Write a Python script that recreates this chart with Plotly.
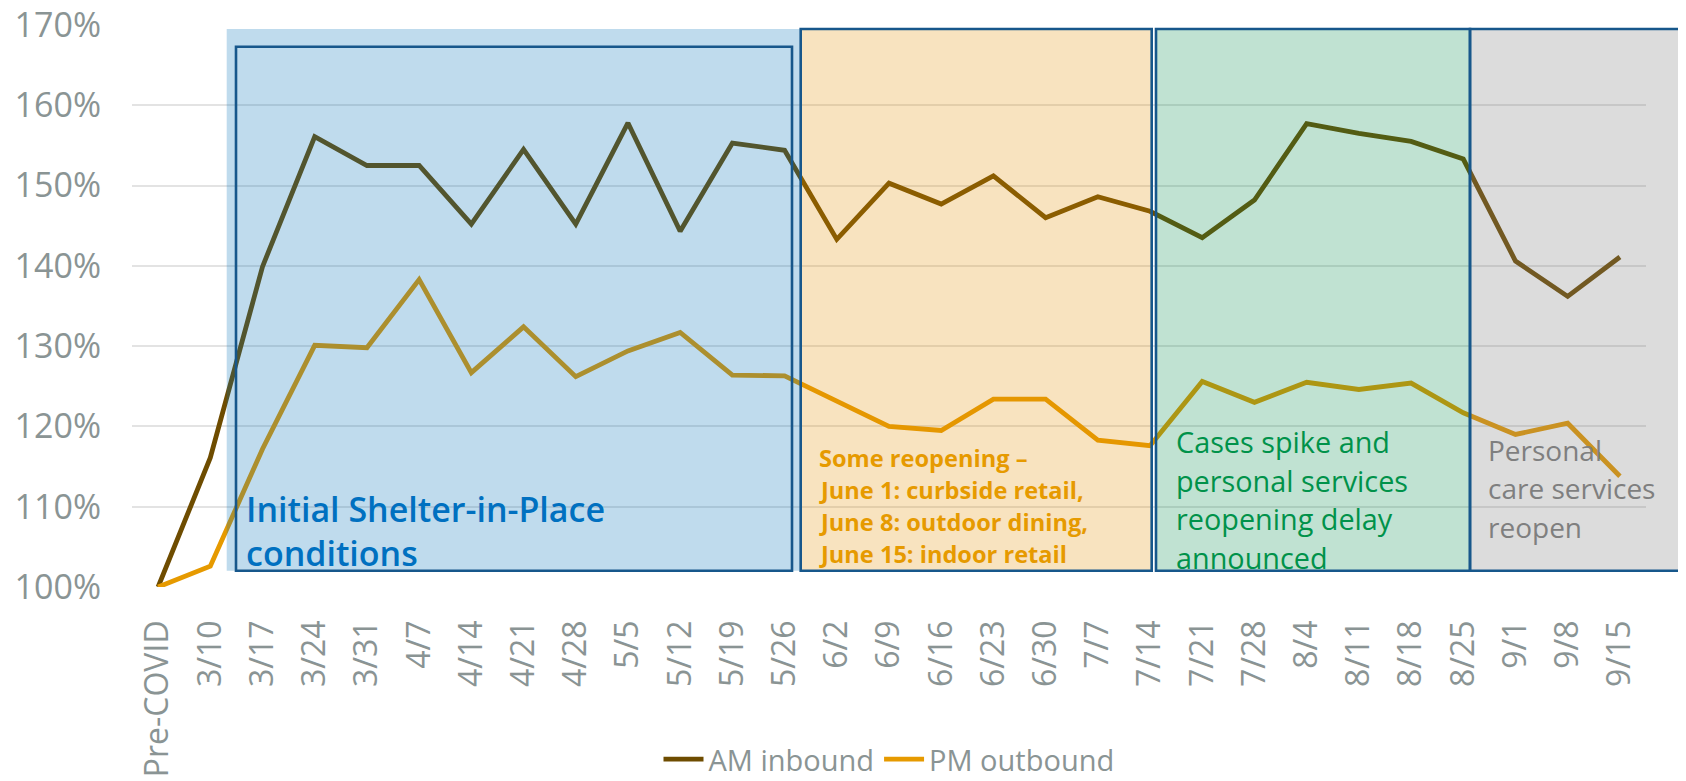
import plotly.graph_objects as go

categories = ["Pre-COVID", "3/10", "3/17", "3/24", "3/31", "4/7", "4/14", "4/21", "4/28",
              "5/5", "5/12", "5/19", "5/26", "6/2", "6/9", "6/16", "6/23", "6/30", "7/7",
              "7/14", "7/21", "7/28", "8/4", "8/11", "8/18", "8/25", "9/1", "9/8", "9/15"]
am_inbound = [100.0, 116.1, 139.9, 156.1, 152.5, 152.5, 145.2, 154.5, 145.2,
              157.8, 144.3, 155.3, 154.4, 143.3, 150.3, 147.7, 151.2, 146.0, 148.6,
              146.8, 143.5, 148.2, 157.7, 156.5, 155.5, 153.3, 140.6, 136.2, 141.1]
pm_outbound = [100.0, 102.6, 117.2, 130.1, 129.8, 138.3, 126.7, 132.4, 126.2,
               129.4, 131.7, 126.4, 126.3, 123.1, 120.0, 119.5, 123.4, 123.4, 118.3,
               117.6, 125.6, 123.0, 125.5, 124.6, 125.4, 121.7, 119.0, 120.4, 113.8]
y_ticks = [100, 110, 120, 130, 140, 150, 160, 170]
y_tick_text = [f"{v}%" for v in y_ticks]

# page body has an 8px margin: compensate so screen positions match
OFF = 8
W, H = 1686 - OFF, 781 - OFF
# plot area in screen pixels
L, R, T, B = 132, 1646, 25, 587.3
FONT = "Open Sans"
GRAY = "#8a9494"

def px(x):
    return (x - L) / (R - L)

def py(y):
    return (B - y) / (B - T)

fig = go.Figure()
fig.add_trace(go.Scatter(x=categories, y=am_inbound, mode="lines", name="AM inbound",
                         line=dict(color="#6E4C00", width=4.8)))
fig.add_trace(go.Scatter(x=categories, y=pm_outbound, mode="lines", name="PM outbound",
                         line=dict(color="#E69A00", width=4.8)))

shapes = []
fills = [
    (226.7, 29, 800, 571, "rgba(0,112,184,0.25)"),
    (800.7, 29, 1151.7, 571, "rgba(226,142,0,0.25)"),
    (1156, 29, 1470, 571, "rgba(4,140,76,0.25)"),
    (1470, 29, 1684, 571, "rgba(127,127,127,0.27)"),
]
for x0, y0, x1, y1, c in fills:
    shapes.append(dict(type="rect", xref="paper", yref="paper", layer="above",
                       x0=px(x0), x1=px(x1), y0=py(y1), y1=py(y0),
                       fillcolor=c, line=dict(width=0)))
outlines = [
    (236, 46.7, 792, 571),
    (800.7, 29, 1151.7, 571),
    (1156, 29, 1470, 571),
    (1470, 29, 1684, 571),
]
for x0, y0, x1, y1 in outlines:
    shapes.append(dict(type="rect", xref="paper", yref="paper", layer="above",
                       x0=px(x0), x1=px(x1), y0=py(y1), y1=py(y0),
                       fillcolor="rgba(0,0,0,0)", line=dict(color="#17578B", width=2.6)))

annotations = []
def add_lines(lines, x, baselines, size, color, weight):
    for t, b in zip(lines, baselines):
        annotations.append(dict(xref="paper", yref="paper", x=px(x), y=py(b - 0.33 * size),
                                xanchor="left", yanchor="middle", text=t, showarrow=False,
                                borderpad=0,
                                font=dict(family=FONT, size=size, color=color, weight=weight)))

add_lines(["Initial Shelter-in-Place", "conditions"], 245, [520, 565], 34, "#0070C0", 600)
add_lines(["Some reopening \u2013", "June 1: curbside retail,", "June 8: outdoor dining,",
           "June 15: indoor retail"], 818, [466, 498, 530.5, 562.5], 23.6, "#E69A00", 700)
add_lines(["Cases spike and", "personal services", "reopening delay", "announced"],
          1175, [451.7, 490, 528, 567], 28.8, "#00924A", 400)
add_lines(["Personal", "care services", "reopen"], 1487, [459, 497.3, 536.7], 28, "#7F7F7F", 400)

fig.update_layout(
    width=W, height=H,
    margin=dict(l=L - OFF, r=(W + OFF) - R, t=T - OFF, b=(H + OFF) - B, autoexpand=False),
    plot_bgcolor="white", paper_bgcolor="white",
    font=dict(family=FONT, color=GRAY),
    showlegend=True,
    legend=dict(orientation="h", x=0.5, xanchor="center", y=0.028, yanchor="middle",
                yref="container", font=dict(size=29, color=GRAY, family=FONT),
                itemwidth=40),
    shapes=shapes,
    annotations=annotations,
)
fig.update_xaxes(type="category", range=[-0.5, len(categories) - 0.5], tickangle=-90,
                 tickfont=dict(size=32, color=GRAY),
                 showgrid=False, showline=False, ticks="", ticklabelstandoff=26,
                 automargin=False)
fig.update_yaxes(range=[100, 170], tickvals=y_ticks, ticktext=y_tick_text,
                 tickfont=dict(size=34, color=GRAY), showgrid=True, gridcolor="#E3E3E3",
                 gridwidth=2, zeroline=False, showline=False, ticks="", ticklabelstandoff=30,
                 ticklabeloverflow="allow", automargin=False)

fig.write_html("out.html")
